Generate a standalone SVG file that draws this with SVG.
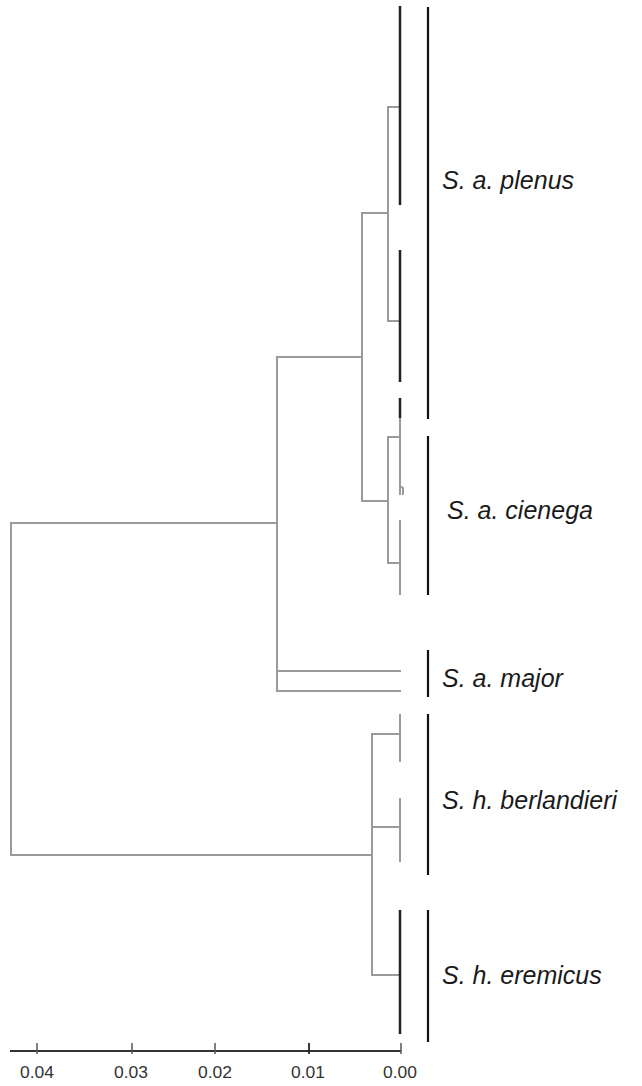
<svg xmlns="http://www.w3.org/2000/svg" width="642" height="1086" viewBox="0 0 642 1086">
<style>
.br{stroke:#9a9a9a;stroke-width:2;fill:none}
.lf{stroke:#222;stroke-width:2.5;fill:none}
.bar{stroke:#111;stroke-width:2.2;fill:none}
.ax{stroke:#333;stroke-width:2;fill:none}
.tk{stroke:#555;stroke-width:1.5}
.lab{font-family:"Liberation Sans",Arial,sans-serif;font-style:italic;font-size:25px;fill:#1a1a1a}
.num{font-family:"Liberation Sans",Arial,sans-serif;font-size:17px;fill:#333;text-anchor:middle}
</style>
<rect width="642" height="1086" fill="#fff"/>
<g id="connectors">
<path class="br" d="M400,107H388V321H400"/>
<path class="br" d="M388,213H362V501H388"/>
<path class="br" d="M400,437H388V563H400"/>
<path class="br" d="M362,357H277V691H401M277,671H401"/>
<path class="br" d="M277,523H11V855H372"/>
<path class="br" d="M400,734H372V975H400M372,827H400"/>
<path class="br" d="M400,418V495M400,486L403,488V495M400,520V595M400,714V762M400,798V862"/>
</g>
<g id="leaves">
<path class="lf" d="M400,6V205M400,250V382M400,398V418M400,910V1034"/>
</g>
<g id="node-plenus"><path class="bar" d="M428,7V419"/><text class="lab" x="442" y="189">S. a. plenus</text></g>
<g id="node-cienega"><path class="bar" d="M428,436V595"/><text class="lab" x="447" y="519">S. a. cienega</text></g>
<g id="node-major"><path class="bar" d="M428,650V697"/><text class="lab" x="442" y="687">S. a. major</text></g>
<g id="node-berlandieri"><path class="bar" d="M428,714V875"/><text class="lab" x="442" y="809">S. h. berlandieri</text></g>
<g id="node-eremicus"><path class="bar" d="M428,910V1042"/><text class="lab" x="442" y="984">S. h. eremicus</text></g>
<g id="axis">
<path class="ax" d="M10,1051H401"/>
<path class="tk" d="M37,1043V1054M132,1043V1054M215,1043V1054M401,1043V1054"/>
<path stroke="#222" stroke-width="1.8" d="M309,1043V1054"/>
<text class="num" x="37" y="1078" textLength="34" lengthAdjust="spacingAndGlyphs">0.04</text>
<text class="num" x="131" y="1078" textLength="34" lengthAdjust="spacingAndGlyphs">0.03</text>
<text class="num" x="215" y="1078" textLength="34" lengthAdjust="spacingAndGlyphs">0.02</text>
<text class="num" x="308" y="1078" textLength="34" lengthAdjust="spacingAndGlyphs">0.01</text>
<text class="num" x="400" y="1078" textLength="34" lengthAdjust="spacingAndGlyphs">0.00</text>
</g>
</svg>
